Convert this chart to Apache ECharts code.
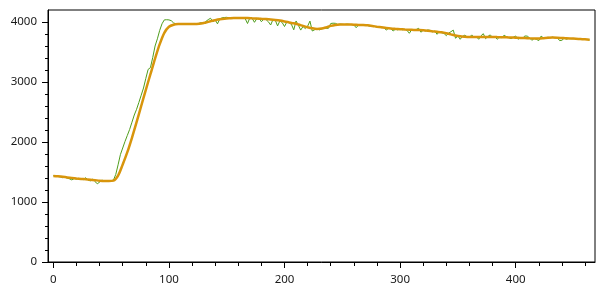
<!DOCTYPE html>
<html>
<head>
<meta charset="utf-8">
<script src="https://cdn.jsdelivr.net/npm/echarts@6/dist/echarts.min.js"></script>
<style>
html,body{margin:0;padding:0;background:#fff;}
#chart{width:604px;height:301px;}
</style>
</head>
<body>
<div id="chart"></div>
<script>
// raw measurement (green), sampled every 2 units of x
const rawStep = 2;
const rawValues = [
1440,1432,1425,1418,1405,1412,1398,1385,1368,1390,
1380,1395,1378,1372,1405,1365,1352,1383,1340,1305,
1330,1365,1352,1350,1352,1355,1365,1460,1620,1790,
1900,2010,2110,2210,2330,2450,2545,2660,2780,2900,
3060,3210,3240,3410,3600,3720,3860,3970,4035,4038,
4035,4022,3985,3970,3966,3962,3968,3965,3970,3962,
3968,3975,3965,3978,3990,3975,4010,4040,4062,4005,
4035,3970,4050,4070,4075,4078,4070,4076,4062,4070,
4072,4060,4068,4055,3975,4070,4060,3995,4055,4062,
4005,4048,4040,4005,3950,4040,4030,3935,4020,3990,
3925,4000,3985,3960,3870,4017,3945,3865,3925,3890,
3930,4015,3850,3870,3895,3868,3880,3900,3895,3895,
3975,3980,3978,3960,3965,3962,3958,3965,3960,3955,
3950,3905,3950,3948,3945,3952,3940,3930,3935,3925,
3915,3920,3905,3910,3865,3895,3890,3850,3880,3868,
3885,3870,3878,3860,3812,3870,3860,3875,3895,3830,
3862,3850,3868,3860,3835,3850,3795,3840,3820,3810,
3772,3815,3838,3865,3728,3770,3712,3760,3780,3752,
3745,3785,3740,3755,3712,3770,3805,3722,3760,3785,
3745,3760,3712,3750,3740,3778,3755,3740,3722,3745,
3767,3712,3740,3730,3767,3765,3735,3695,3725,3710,
3690,3765,3735,3740,3745,3738,3748,3735,3740,3690,
3695,3730,3712,3728,3722,3720,3725,3715,3720,3712,
3708,3710,3700
];
// smoothed curve (orange), sampled every 4 units of x
const smoothStep = 4;
const smoothValues = [
1435,1428,1420,1410,1402,1393,1385,1378,1372,1364,
1355,1350,1350,1356,1440,1625,1830,2070,2330,2600,
2870,3130,3390,3630,3820,3920,3955,3965,3966,3966,
3967,3968,3975,3993,4012,4030,4045,4055,4061,4065,
4068,4068,4066,4062,4058,4053,4048,4042,4034,4024,
4010,3994,3978,3958,3935,3913,3895,3885,3890,3910,
3935,3950,3958,3960,3958,3955,3952,3949,3944,3934,
3922,3911,3900,3891,3885,3880,3875,3871,3868,3865,
3861,3854,3845,3837,3828,3813,3794,3775,3762,3755,
3750,3748,3750,3752,3752,3750,3748,3747,3745,3742,
3738,3735,3732,3728,3725,3725,3730,3737,3740,3738,
3733,3728,3725,3722,3718,3712,3705
];
const xMajorTicks = [0,100,200,300,400];
const xMinorTicks = [20,40,60,80,120,140,160,180,220,240,260,280,320,340,360,380,420,440,460];
const yMajorTicks = [0,1000,2000,3000,4000];
const yMinorTicks = [200,400,600,800,1200,1400,1600,1800,2200,2400,2600,2800,3200,3400,3600,3800];
const xMin = -4.64, xMax = 468.64, yMin = 0, yMax = 4200;

const rawData = rawValues.map((v,i)=>[i*rawStep, v]);
const smoothData = smoothValues.map((v,i)=>[i*smoothStep, v]);

const font = {fontFamily:'"Noto Sans", "Open Sans", sans-serif', fontSize:11.5, color:'#1a1a1a'};
const plain = v => String(v);
const chart = echarts.init(document.getElementById('chart'), null, {renderer:'canvas'});
chart.setOption({
  animation:false,
  backgroundColor:'#ffffff',
  grid:{left:48, top:10, right:9, bottom:39, show:true, borderColor:'#000', borderWidth:1, backgroundColor:'transparent'},
  xAxis:[
    {type:'value', min:xMin, max:xMax, position:'bottom',
     axisLine:{show:true, onZero:false, lineStyle:{color:'#000', width:1}},
     axisTick:{show:true, customValues:xMajorTicks, length:6, lineStyle:{color:'#000'}},
     axisLabel:{show:true, customValues:xMajorTicks, margin:12, formatter:plain, ...font},
     splitLine:{show:false}},
    {type:'value', min:xMin, max:xMax, position:'bottom',
     axisLine:{show:false, onZero:false},
     axisTick:{show:true, customValues:xMinorTicks, length:4, lineStyle:{color:'#000'}},
     axisLabel:{show:false, customValues:xMinorTicks},
     splitLine:{show:false}}
  ],
  yAxis:[
    {type:'value', min:yMin, max:yMax, position:'left',
     axisLine:{show:true, onZero:false, lineStyle:{color:'#000', width:1}},
     axisTick:{show:true, customValues:yMajorTicks, length:6, lineStyle:{color:'#000'}},
     axisLabel:{show:true, customValues:yMajorTicks, margin:11, formatter:plain, ...font},
     splitLine:{show:false}},
    {type:'value', min:yMin, max:yMax, position:'left',
     axisLine:{show:false, onZero:false},
     axisTick:{show:true, customValues:yMinorTicks, length:3, lineStyle:{color:'#000'}},
     axisLabel:{show:false, customValues:yMinorTicks},
     splitLine:{show:false}}
  ],
  series:[
    {type:'line', data:rawData, xAxisIndex:0, yAxisIndex:0, showSymbol:false, symbol:'none',
     lineStyle:{color:'#4f9e1c', width:1}, z:2},
    {type:'line', data:smoothData, xAxisIndex:0, yAxisIndex:0, showSymbol:false, symbol:'none', smooth:0.3,
     lineStyle:{color:'#d8950b', width:2.5}, z:3}
  ]
});
</script>
</body>
</html>
